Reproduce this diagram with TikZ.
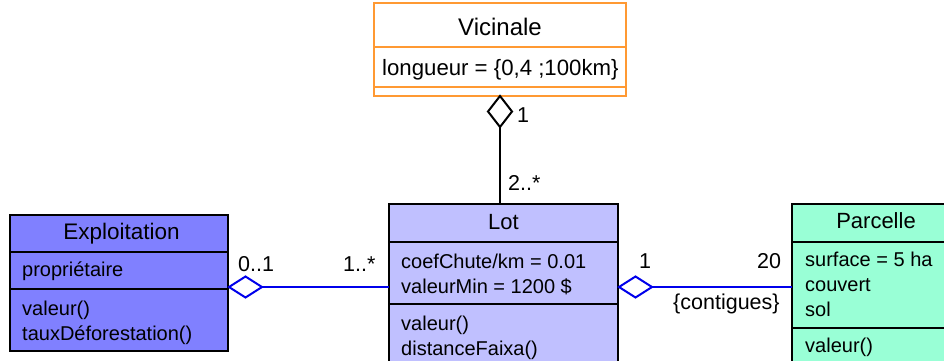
\documentclass[tikz,border=0pt]{standalone}
\usepackage{fontspec}
\setmainfont{Liberation Sans}
\definecolor{vicor}{RGB}{255,153,51}
\definecolor{expfill}{RGB}{128,128,255}
\definecolor{lotfill}{RGB}{192,192,255}
\definecolor{parfill}{RGB}{153,255,214}
\definecolor{assoc}{RGB}{0,0,235}
\newcommand{\attrsize}{\fontsize{20}{25}\selectfont}
\newcommand{\titlesize}{\fontsize{22}{25}\selectfont}
\tikzset{
  classbox/.style={draw=black, line width=2pt, inner sep=0pt, outer sep=0pt, anchor=north west},
  attr/.style={anchor=base west, inner sep=0pt, font=\attrsize},
  ttl/.style={anchor=base, inner sep=0pt, font=\titlesize},
  mult/.style={anchor=base west, inner sep=0pt, font=\fontsize{21.5}{25}\selectfont},
  sepline/.style={line width=2pt},
  assocline/.style={draw=assoc, line width=2pt},
}
\begin{document}
\begin{tikzpicture}[x=1pt,y=-1pt]
\useasboundingbox (0,0) rectangle (944,360);
\clip (0,0) rectangle (944,360);
\fill[white] (0,0) rectangle (944,360);

% Vicinale
\node[classbox, draw=vicor, fill=white, minimum width=252pt, minimum height=93pt] (vic) at (374,3) {};
\draw[sepline, vicor] (vic.west |- 0,47) -- (vic.east |- 0,47);
\draw[sepline, vicor] (vic.west |- 0,87) -- (vic.east |- 0,87);
\node[ttl, font=\fontsize{24}{25}\selectfont] (victitle) at (500,35) {Vicinale};
\node[attr, font=\fontsize{22.2}{25}\selectfont] (vicattr) at (382,75) {longueur = \{0,4 ;100km\}};

% Lot
\node[classbox, fill=lotfill, minimum width=229pt, minimum height=170pt] (lot) at (389,204) {};
\draw[sepline] (lot.west |- 0,242) -- (lot.east |- 0,242);
\draw[sepline] (lot.west |- 0,304) -- (lot.east |- 0,304);
\node[ttl] (lottitle) at (503.5,229.5) {Lot};
\node[attr] (lota1) at (401,268) {coefChute/km = 0.01};
\node[attr] (lota2) at (401,293) {valeurMin = 1200 \$};
\node[attr] (lotm1) at (401,330) {valeur()};
\node[attr] (lotm2) at (401,355) {distanceFaixa()};

% Exploitation
\node[classbox, fill=expfill, minimum width=218pt, minimum height=136pt] (exp) at (10,215) {};
\draw[sepline] (exp.west |- 0,252) -- (exp.east |- 0,252);
\draw[sepline] (exp.west |- 0,289) -- (exp.east |- 0,289);
\node[ttl, font=\fontsize{22.5}{25}\selectfont] (exptitle) at (121.5,239) {Exploitation};
\node[attr] (expa1) at (22,276) {propriétaire};
\node[attr] (expm1) at (22,315) {valeur()};
\node[attr] (expm2) at (22,340) {tauxDéforestation()};

% Parcelle
\node[classbox, fill=parfill, minimum width=168pt, minimum height=170pt] (par) at (792,204) {};
\draw[sepline] (par.west |- 0,242) -- (par.east |- 0,242);
\draw[sepline] (par.west |- 0,328) -- (par.east |- 0,328);
\node[ttl] (partitle) at (876,228.5) {Parcelle};
\node[attr] (para1) at (805,266) {surface = 5 ha};
\node[attr] (para2) at (805,291) {couvert};
\node[attr] (para3) at (805,316) {sol};
\node[attr] (parm1) at (805,352) {valeur()};

% Vicinale -- Lot aggregation
\coordinate (d1t) at (500,96);
\coordinate (d1b) at (500,127);
\draw[line width=2pt, fill=white, line join=miter] (d1t) -- (512,111.5) -- (d1b) -- (488,111.5) -- cycle;
\draw[line width=2pt] (d1b) -- (d1b |- lot.north);
\node[mult] (m1) at (517,122) {1};
\node[mult] (m2) at (508,190) {2..*};

% Exploitation -- Lot aggregation
\coordinate (d2l) at (229,287);
\coordinate (d2r) at (262,287);
\draw[assocline, fill=white, line join=miter] (d2l) -- (245.5,276.5) -- (d2r) -- (245.5,297.5) -- cycle;
\draw[assocline] (d2r) -- (d2r -| lot.west);
\node[mult] (m3) at (238,271) {0..1};
\node[mult] (m4) at (343,271) {1..*};

% Lot -- Parcelle aggregation
\coordinate (d3l) at (619,287);
\coordinate (d3r) at (652,287);
\draw[assocline, fill=white, line join=miter] (d3l) -- (635.5,276.5) -- (d3r) -- (635.5,297.5) -- cycle;
\draw[assocline] (d3r) -- (d3r -| par.west);
\node[mult] (m5) at (639,268) {1};
\node[mult] (m6) at (757,268) {20};
\node[mult] (m7) at (673,309) {\{contigues\}};
\end{tikzpicture}
\end{document}
